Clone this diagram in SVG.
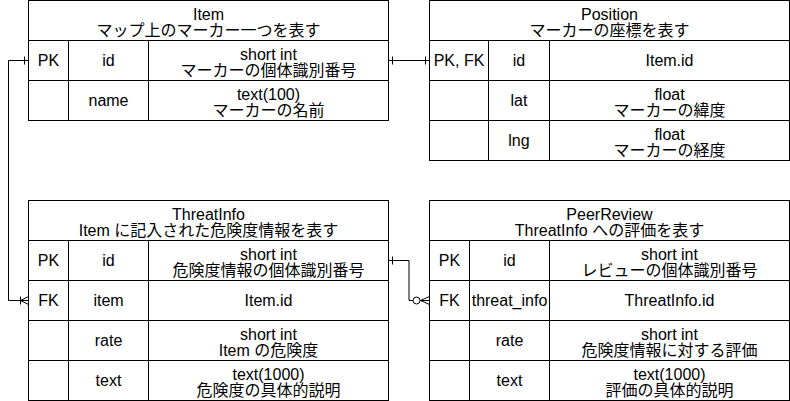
<svg xmlns="http://www.w3.org/2000/svg" width="790" height="401" viewBox="0 0 790 401">
<style>
.b{fill:#fff;stroke:#000;stroke-width:1}
.l{stroke:#000;stroke-width:1;fill:none}
text{font-family:"Liberation Sans","Noto Sans CJK JP",sans-serif;font-size:16px;fill:#000;text-anchor:middle}
</style>
<rect width="790" height="401" fill="#fff"/>
<g id="connectors" class="l">
<path d="M28.5,60.5H8.5V300.5H28.5"/>
<path d="M24.5,56.5V64.5"/>
<path d="M20.5,296.5V304.5M20.5,300.5L28.5,296.5M20.5,300.5L28.5,304.5"/>
<path d="M388.5,60.5H429.5"/>
<path d="M392.5,56.5V64.5M425.5,56.5V64.5"/>
<path d="M388.5,260.5H409V300.5H413"/>
<path d="M392.5,256.5V264.5"/>
<circle cx="416.5" cy="300.5" r="3.5" fill="#fff"/>
<path d="M420,300.5H429.5M420.5,300.5L429.5,296.5M420.5,300.5L429.5,304.5"/>
</g>
<g id="item">
<rect class="b" x="28.5" y="0.5" width="360" height="120"/>
<path class="l" d="M28.5,40.5H388.5M28.5,80.5H388.5M68.5,40.5V120.5M148.5,40.5V120.5"/>
<text x="208.5" y="20">Item</text>
<text x="208.5" y="36">マップ上のマーカー一つを表す</text>
<text x="48.5" y="66">PK</text>
<text x="108.5" y="66">id</text>
<text x="268.5" y="59.5">short int</text>
<text x="268.5" y="75.5">マーカーの個体識別番号</text>
<text x="108.5" y="106">name</text>
<text x="268.5" y="99.5">text(100)</text>
<text x="268.5" y="115.5">マーカーの名前</text>
</g>
<g id="position">
<rect class="b" x="429.5" y="0.5" width="360" height="160"/>
<path class="l" d="M429.5,40.5H789.5M429.5,80.5H789.5M429.5,120.5H789.5M488.5,40.5V160.5M549.5,40.5V160.5"/>
<text x="609.5" y="20">Position</text>
<text x="609.5" y="36">マーカーの座標を表す</text>
<text x="459" y="66">PK, FK</text>
<text x="519" y="66">id</text>
<text x="669.5" y="66">Item.id</text>
<text x="519" y="106">lat</text>
<text x="669.5" y="99.5">float</text>
<text x="669.5" y="115.5">マーカーの緯度</text>
<text x="519" y="146">lng</text>
<text x="669.5" y="139.5">float</text>
<text x="669.5" y="155.5">マーカーの経度</text>
</g>
<g id="threatinfo">
<rect class="b" x="28.5" y="200.5" width="360" height="200"/>
<path class="l" d="M28.5,240.5H388.5M28.5,280.5H388.5M28.5,320.5H388.5M28.5,360.5H388.5M68.5,240.5V400.5M148.5,240.5V400.5"/>
<text x="208.5" y="220">ThreatInfo</text>
<text x="208.5" y="236">Item に記入された危険度情報を表す</text>
<text x="48.5" y="266">PK</text>
<text x="108.5" y="266">id</text>
<text x="268.5" y="259.5">short int</text>
<text x="268.5" y="275.5">危険度情報の個体識別番号</text>
<text x="48.5" y="306">FK</text>
<text x="108.5" y="306">item</text>
<text x="268.5" y="306">Item.id</text>
<text x="108.5" y="346">rate</text>
<text x="268.5" y="339.5">short int</text>
<text x="268.5" y="355.5">Item の危険度</text>
<text x="108.5" y="386">text</text>
<text x="268.5" y="379.5">text(1000)</text>
<text x="268.5" y="395.5">危険度の具体的説明</text>
</g>
<g id="peerreview">
<rect class="b" x="429.5" y="200.5" width="360" height="200"/>
<path class="l" d="M429.5,240.5H789.5M429.5,280.5H789.5M429.5,320.5H789.5M429.5,360.5H789.5M469.5,240.5V400.5M549.5,240.5V400.5"/>
<text x="609.5" y="220">PeerReview</text>
<text x="609.5" y="236">ThreatInfo への評価を表す</text>
<text x="449.5" y="266">PK</text>
<text x="509.5" y="266">id</text>
<text x="669.5" y="259.5">short int</text>
<text x="669.5" y="275.5">レビューの個体識別番号</text>
<text x="449.5" y="306">FK</text>
<text x="509.5" y="306">threat_info</text>
<text x="669.5" y="306">ThreatInfo.id</text>
<text x="509.5" y="346">rate</text>
<text x="669.5" y="339.5">short int</text>
<text x="669.5" y="355.5">危険度情報に対する評価</text>
<text x="509.5" y="386">text</text>
<text x="669.5" y="379.5">text(1000)</text>
<text x="669.5" y="395.5">評価の具体的説明</text>
</g>
</svg>
